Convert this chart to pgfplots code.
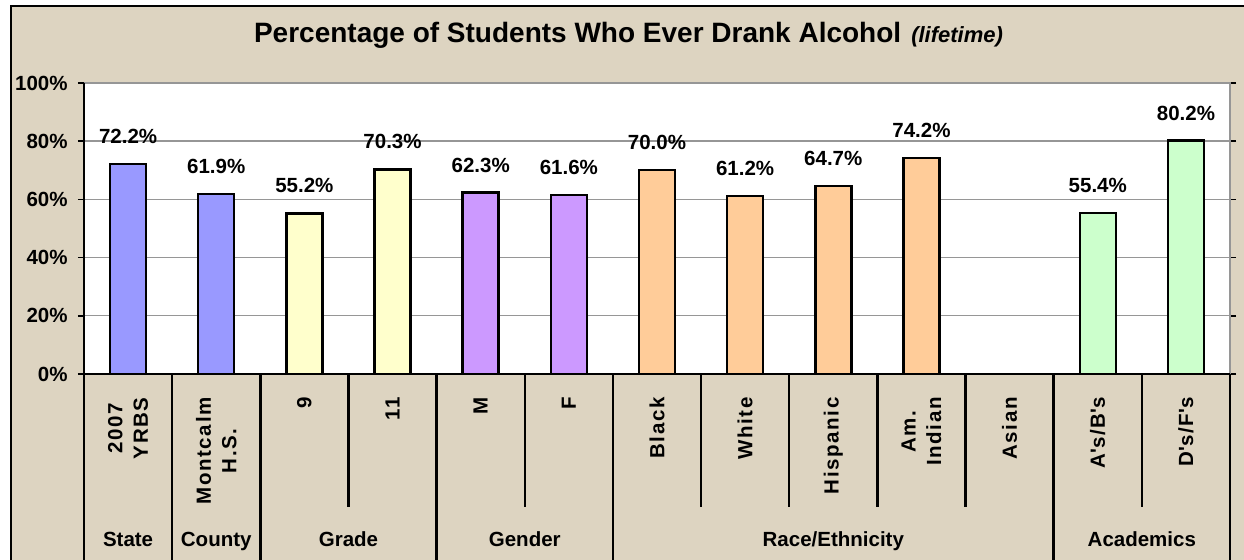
\documentclass[border=0pt]{standalone}
\usepackage{fontspec}
\setmainfont{Liberation Sans}
\newfontfamily\spaced[LetterSpace=8]{Liberation Sans}
\usepackage{pgfplots}
\pgfplotsset{compat=1.18}
\definecolor{bgtan}{RGB}{221,212,193}
\definecolor{cblue}{RGB}{153,153,255}
\definecolor{cyellow}{RGB}{255,255,204}
\definecolor{cpurple}{RGB}{204,153,255}
\definecolor{cpeach}{RGB}{255,204,153}
\definecolor{cgreen}{RGB}{204,255,204}
\definecolor{gridgray}{RGB}{150,150,150}
\newcommand{\lblfont}{\bfseries\fontsize{10.25pt}{12.8pt}\selectfont}
\begin{document}
\begin{tikzpicture}
\useasboundingbox (0pt,0pt) rectangle (622pt,280pt);
\fill[white] (0pt,0pt) rectangle (622pt,280pt);
\fill[bgtan] (5.5pt,0pt) rectangle (622pt,277pt);
\draw[black,line width=1.4pt] (5.5pt,0pt) -- (5.5pt,277pt) -- (622pt,277pt);
\node[anchor=base] at (314.25pt,258.85pt) {\bfseries\fontsize{14pt}{16pt}\selectfont Percentage of Students Who Ever Drank Alcohol\hspace{5pt}{\fontsize{11pt}{13pt}\selectfont\itshape (lifetime)}};
\begin{axis}[
  at={(42pt,93pt)}, anchor=south west, scale only axis,
  width=573pt, height=145.5pt,
  xmin=-0.5, xmax=12.5, ymin=0, ymax=100,
  ybar, bar width=18pt, bar shift=0pt,
  axis background/.style={fill=white},
  axis line style={draw=none},
  ymajorgrids, major grid style={gridgray, line width=0.7pt},
  ytick={0,20,...,100},
  yticklabels={0\%,20\%,40\%,60\%,80\%,100\%},
  xtick={0,...,12},
  xticklabels={{2007\\YRBS},{Montcalm\\H.S.},{9},{11},{M},{F},{Black},{White},{Hispanic},{Am.\\Indian},{Asian},{A\textquotesingle s/B\textquotesingle s},{D\textquotesingle s/F\textquotesingle s}},
  tick align=outside, major tick length=3pt,
  xtick style={draw=none},
  ytick style={black, line width=0.8pt},
  xticklabel style={yshift=-8.5pt, rotate=90, anchor=east, align=center, font=\spaced\lblfont, inner sep=0pt},
  yticklabel style={font=\lblfont, inner sep=0pt, xshift=-5pt},
  clip=false,
  /pgf/number format/assume math mode=true,
  nodes near coords={\pgfmathprintnumber[fixed,fixed zerofill,precision=1]{\pgfplotspointmeta}\%},
  every node near coord/.append style={font=\lblfont, anchor=base, yshift=10.3pt, inner sep=0pt, text=black},
]
\addplot[fill=cblue, draw=black, line width=1.2pt] coordinates {(0,72.2) (1,61.9)};
\addplot[fill=cyellow, draw=black, line width=1.2pt] coordinates {(2,55.2) (3,70.3)};
\addplot[fill=cpurple, draw=black, line width=1.2pt] coordinates {(4,62.3) (5,61.6)};
\addplot[fill=cpeach, draw=black, line width=1.2pt] coordinates {(6,70.0) (7,61.2) (8,64.7) (9,74.2)};
\addplot[fill=cgreen, draw=black, line width=1.2pt] coordinates {(11,55.4) (12,80.2)};
\draw[gridgray, line width=0.7pt] (rel axis cs:0,1) -- (rel axis cs:1,1) -- (rel axis cs:1,0);
\draw[black, line width=1.2pt] (rel axis cs:0,1) -- (rel axis cs:0,0) -- (rel axis cs:1,0);
\draw[black, line width=1.2pt] (axis cs:-0.5,0) -- ++(0pt,-93pt);
\draw[black, line width=1.2pt] (axis cs:0.5,0) -- ++(0pt,-93pt);
\draw[black, line width=1.2pt] (axis cs:1.5,0) -- ++(0pt,-93pt);
\draw[black, line width=1.2pt] (axis cs:2.5,0) -- ++(0pt,-66.5pt);
\draw[black, line width=1.2pt] (axis cs:3.5,0) -- ++(0pt,-93pt);
\draw[black, line width=1.2pt] (axis cs:4.5,0) -- ++(0pt,-66.5pt);
\draw[black, line width=1.2pt] (axis cs:5.5,0) -- ++(0pt,-93pt);
\draw[black, line width=1.2pt] (axis cs:6.5,0) -- ++(0pt,-66.5pt);
\draw[black, line width=1.2pt] (axis cs:7.5,0) -- ++(0pt,-66.5pt);
\draw[black, line width=1.2pt] (axis cs:8.5,0) -- ++(0pt,-66.5pt);
\draw[black, line width=1.2pt] (axis cs:9.5,0) -- ++(0pt,-66.5pt);
\draw[black, line width=1.2pt] (axis cs:10.5,0) -- ++(0pt,-93pt);
\draw[black, line width=1.2pt] (axis cs:11.5,0) -- ++(0pt,-66.5pt);
\draw[black, line width=1.2pt] (axis cs:12.5,0) -- ++(0pt,-93pt);
\node[font=\lblfont, anchor=base, yshift=-86.5pt] at (axis cs:0,0) {State};
\node[font=\lblfont, anchor=base, yshift=-86.5pt] at (axis cs:1,0) {County};
\node[font=\lblfont, anchor=base, yshift=-86.5pt] at (axis cs:2.5,0) {Grade};
\node[font=\lblfont, anchor=base, yshift=-86.5pt] at (axis cs:4.5,0) {Gender};
\node[font=\lblfont, anchor=base, yshift=-86.5pt] at (axis cs:8,0) {Race/Ethnicity};
\node[font=\lblfont, anchor=base, yshift=-86.5pt] at (axis cs:11.5,0) {Academics};
\end{axis}
\end{tikzpicture}
\end{document}
